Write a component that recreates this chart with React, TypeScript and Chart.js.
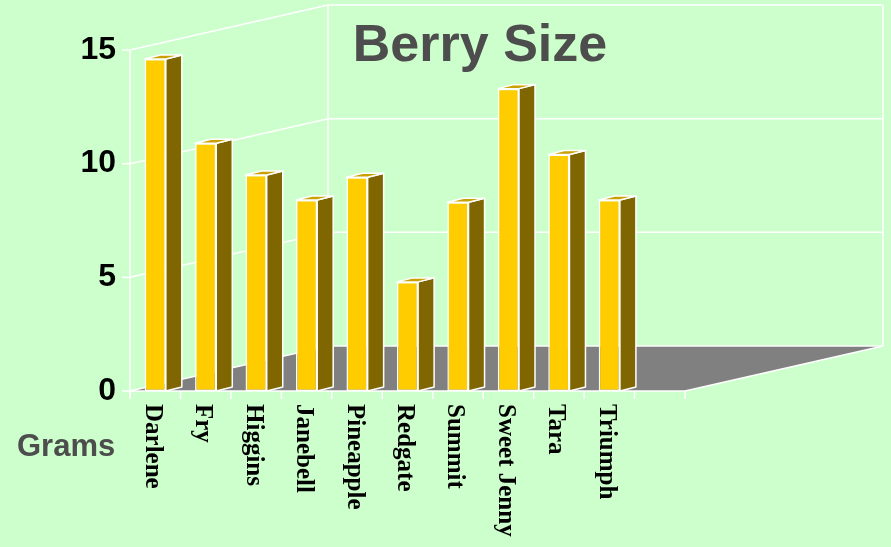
import React, { useEffect, useRef } from "react";
import { Chart, registerables } from "chart.js";

Chart.register(...registerables);

const categories = ["Darlene", "Fry", "Higgins", "Janebell", "Pineapple", "Redgate", "Summit", "Sweet Jenny", "Tara", "Triumph", ""];
const berrySize = [14.6, 10.9, 9.5, 8.4, 9.4, 4.8, 8.3, 13.3, 10.4, 8.4, null];
const yTicks = [0, 5, 10, 15];
const titleText = "Berry Size";
const axisTitle = "Grams";

const W = 891;
const H = 547;
const WALL_DX = 198;
const WALL_DY = -45;
const BAR_DX = 16;
const BAR_DY = -4;

const threeD = {
  id: "threeD",
  beforeDatasetsDraw(chart: any) {
    const { ctx, chartArea: a, scales } = chart;
    const y = scales.y;
    const L = a.left, R = a.right, T = a.top, B = a.bottom;
    ctx.save();
    // floor
    ctx.fillStyle = "#808080";
    ctx.beginPath();
    ctx.moveTo(L, B);
    ctx.lineTo(R, B);
    ctx.lineTo(R + WALL_DX, B + WALL_DY);
    ctx.lineTo(L + WALL_DX, B + WALL_DY);
    ctx.closePath();
    ctx.fill();

    ctx.strokeStyle = "#ffffff";
    ctx.lineWidth = 1.5;
    const line = (pts: number[][]) => {
      ctx.beginPath();
      ctx.moveTo(pts[0][0], pts[0][1]);
      for (let i = 1; i < pts.length; i++) ctx.lineTo(pts[i][0], pts[i][1]);
      ctx.stroke();
    };
    // gridlines on side and back walls
    for (const v of yTicks) {
      const py = y.getPixelForValue(v);
      line([[L, py], [L + WALL_DX, py + WALL_DY], [R + WALL_DX, py + WALL_DY]]);
      line([[L - 8, py], [L, py]]);
    }
    // back wall verticals
    line([[L + WALL_DX, T + WALL_DY], [L + WALL_DX, B + WALL_DY]]);
    line([[R + WALL_DX, T + WALL_DY], [R + WALL_DX, B + WALL_DY]]);
    // front axis
    line([[L, T], [L, B + 7]]);
    // floor front & right edges
    line([[L, B], [R, B]]);
    line([[R, B], [R + WALL_DX, B + WALL_DY]]);
    // category ticks
    const n = categories.length;
    for (let i = 0; i <= n; i++) {
      const px = L + (i * (R - L)) / n;
      line([[px, B], [px, B + 8]]);
    }
    ctx.restore();
  },
  afterDatasetsDraw(chart: any) {
    const { ctx } = chart;
    const meta = chart.getDatasetMeta(0);
    ctx.save();
    ctx.strokeStyle = "#ffffff";
    ctx.lineWidth = 1.5;
    ctx.lineJoin = "round";
    meta.data.forEach((bar: any, i: number) => {
      if (berrySize[i] == null) return;
      const { x, y, base, width } = bar.getProps(["x", "y", "base", "width"], true);
      const l = x - width / 2;
      const r = x + width / 2;
      // side face
      ctx.fillStyle = "#806600";
      ctx.beginPath();
      ctx.moveTo(r, y);
      ctx.lineTo(r + BAR_DX, y + BAR_DY);
      ctx.lineTo(r + BAR_DX, base + BAR_DY);
      ctx.lineTo(r, base);
      ctx.closePath();
      ctx.fill();
      ctx.stroke();
      // top face
      ctx.fillStyle = "#C9A100";
      ctx.beginPath();
      ctx.moveTo(l, y);
      ctx.lineTo(r, y);
      ctx.lineTo(r + BAR_DX, y + BAR_DY);
      ctx.lineTo(l + BAR_DX, y + BAR_DY);
      ctx.closePath();
      ctx.fill();
      ctx.stroke();
    });
    ctx.restore();
  },
  afterDraw(chart: any) {
    const { ctx, scales } = chart;
    const x = scales.x;
    ctx.save();
    // category labels, rotated clockwise
    ctx.fillStyle = "#000000";
    ctx.font = 'bold 25px "Liberation Serif", "Times New Roman", serif';
    ctx.textAlign = "left";
    ctx.textBaseline = "alphabetic";
    categories.forEach((c, i) => {
      if (!c) return;
      const px = x.getPixelForValue(i);
      ctx.save();
      ctx.translate(px - 9.5, 404);
      ctx.rotate(Math.PI / 2);
      ctx.fillText(c, 0, 0);
      ctx.restore();
    });
    // title
    ctx.fillStyle = "#4D4D4D";
    ctx.font = 'bold 52px "Liberation Sans", Arial, sans-serif';
    ctx.textAlign = "center";
    ctx.fillText(titleText, 480, 61);
    // axis title
    ctx.font = 'bold 31px "Liberation Sans", Arial, sans-serif';
    ctx.textAlign = "left";
    ctx.fillText(axisTitle, 17, 456);
    ctx.restore();
  },
};

export default function App() {
  const ref = useRef<HTMLCanvasElement | null>(null);
  useEffect(() => {
    if (!ref.current) return;
    const chart = new Chart(ref.current, {
      type: "bar",
      data: {
        labels: categories,
        datasets: [
          {
            data: berrySize as any,
            backgroundColor: "#FFCC00",
            borderColor: "#ffffff",
            borderWidth: 1.5,
            borderSkipped: false,
            barPercentage: 0.42,
            categoryPercentage: 1,
          },
        ],
      },
      options: {
        responsive: false,
        animation: false,
        devicePixelRatio: 1,
        layout: { padding: { left: 0, right: W - 685, top: 50, bottom: H - 391 } },
        plugins: { legend: { display: false }, tooltip: { enabled: false }, title: { display: false } },
        scales: {
          x: { display: false },
          y: {
            min: 0,
            max: 15,
            afterFit: (s: any) => {
              s.width = 130;
            },
            afterBuildTicks: (s: any) => {
              s.ticks = yTicks.map((v) => ({ value: v }));
            },
            grid: { display: false, drawTicks: false },
            border: { display: false },
            ticks: {
              color: "#000000",
              padding: 14,
              font: { family: '"Liberation Sans", Arial, sans-serif', size: 32, weight: "bold" },
            },
          },
        },
      },
      plugins: [threeD],
    });
    return () => chart.destroy();
  }, []);
  return (
    <div style={{ position: "fixed", left: 0, top: 0, width: W, height: H, background: "#CCFFCC" }}>
      <canvas ref={ref} width={W} height={H} style={{ width: W, height: H, display: "block" }} />
    </div>
  );
}
